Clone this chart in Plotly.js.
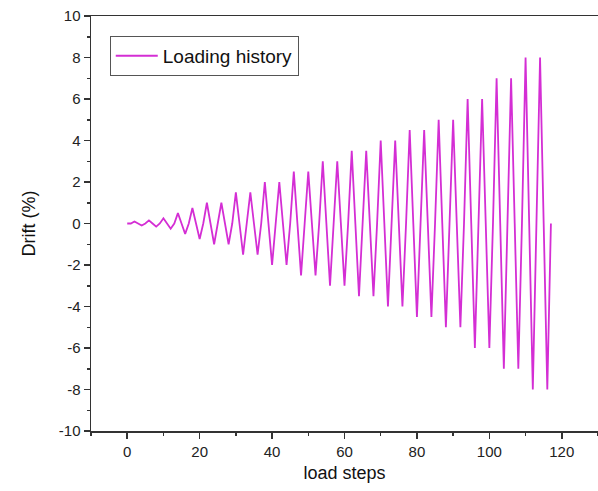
<!DOCTYPE html>
<html>
<head>
<meta charset="utf-8">
<script src="https://cdn.plot.ly/plotly-3.0.1.min.js"></script>
<style>html,body{margin:0;padding:0;background:#fff;}#chart{width:598px;height:491px;}</style>
</head>
<body>
<div id="chart"></div>
<script>
// Drift (%) at each load step
const drift = [
  0, 0, 0.1, 0, -0.1, 0, 0.15, 0, -0.15, 0,
  0.25, 0, -0.25, 0, 0.5, 0, -0.5, 0, 0.75, 0,
  -0.75, 0, 1, 0, -1, 0, 1, 0, -1, 0,
  1.5, 0, -1.5, 0, 1.5, 0, -1.5, 0, 2, 0,
  -2, 0, 2, 0, -2, 0, 2.5, 0, -2.5, 0,
  2.5, 0, -2.5, 0, 3, 0, -3, 0, 3, 0,
  -3, 0, 3.5, 0, -3.5, 0, 3.5, 0, -3.5, 0,
  4, 0, -4, 0, 4, 0, -4, 0, 4.5, 0,
  -4.5, 0, 4.5, 0, -4.5, 0, 5, 0, -5, 0,
  5, 0, -5, 0, 6, 0, -6, 0, 6, 0,
  -6, 0, 7, 0, -7, 0, 7, 0, -7, 0,
  8, 0, -8, 0, 8, 0, -8, 0
];
const steps = drift.map((_, i) => i);
const seriesName = 'Loading history';
const xTitle = 'load steps';
const yTitle = 'Drift (%)';
const yTickVals = [-10, -8, -6, -4, -2, 0, 2, 4, 6, 8, 10];
const yTickText = ['-10', '-8', '-6', '-4', '-2', '0', '2', '4', '6', '8', '10'];
const xTickVals = [0, 20, 40, 60, 80, 100, 120];
const xTickText = ['0', '20', '40', '60', '80', '100', '120'];

const font = 'Liberation Sans, Arial, sans-serif';
const axisCommon = {
  showgrid: false, zeroline: false, showline: true,
  linecolor: '#333', linewidth: 1.5,
  ticks: 'outside', ticklen: 6, tickwidth: 1.5, tickcolor: '#333',
  tickfont: {family: font, size: 15, color: '#222'},
};
const layout = {
  width: 598, height: 491,
  margin: {l: 91, r: 0, t: 16, b: 60},
  paper_bgcolor: '#fff', plot_bgcolor: '#fff',
  showlegend: true,
  legend: {
    x: 0.037, y: 0.952, xanchor: 'left', yanchor: 'top',
    bordercolor: '#555', borderwidth: 1, bgcolor: '#fff',
    font: {family: font, size: 19, color: '#111'},
    itemwidth: 42, tracegroupgap: 0
  },
  xaxis: Object.assign({}, axisCommon, {
    range: [-10, 130], tickmode: 'array', tickvals: xTickVals, ticktext: xTickText, mirror: true,
    minor: {dtick: 10, tick0: 0, ticklen: 3, tickwidth: 1.5, tickcolor: '#333', ticks: 'outside'},
    title: {text: xTitle, font: {family: font, size: 18, color: '#111'}, standoff: 8}
  }),
  yaxis: Object.assign({}, axisCommon, {
    range: [-10, 10], tickmode: 'array', tickvals: yTickVals, ticktext: yTickText, mirror: false,
    minor: {dtick: 1, tick0: 0, ticklen: 3, tickwidth: 1.5, tickcolor: '#333', ticks: 'outside'},
    title: {text: yTitle, font: {family: font, size: 18, color: '#111'}, standoff: 18}
  })
};
const trace = {
  x: steps, y: drift, type: 'scatter', mode: 'lines', name: seriesName,
  line: {color: '#d42ed4', width: 1.8}
};
Plotly.newPlot('chart', [trace], layout, {staticPlot: true, displayModeBar: false});
</script>
</body>
</html>
